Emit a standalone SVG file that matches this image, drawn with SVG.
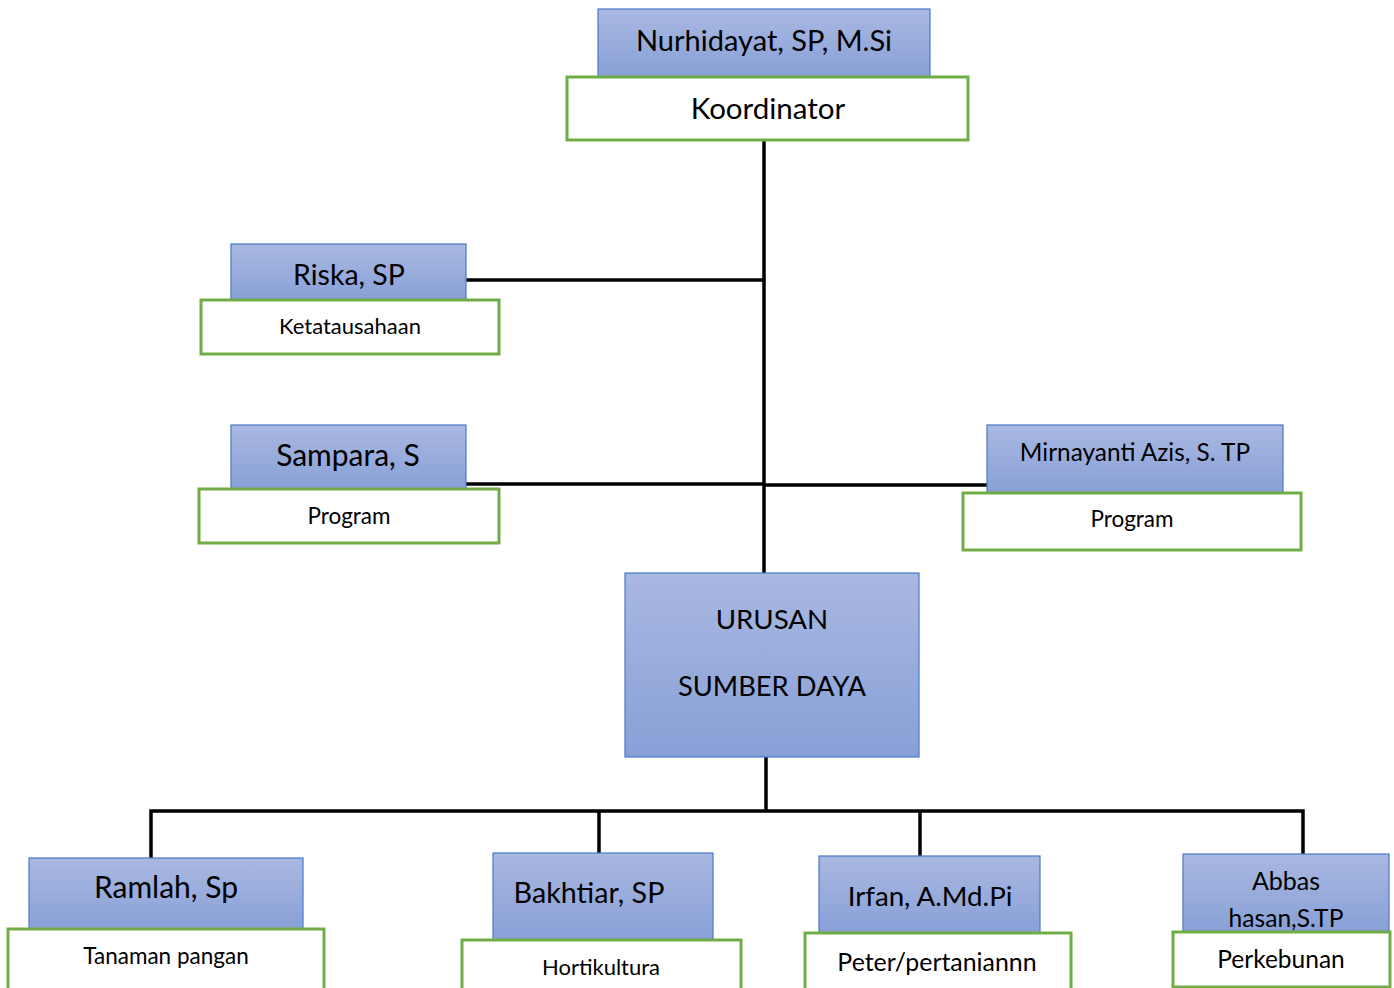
<svg xmlns="http://www.w3.org/2000/svg" width="1394" height="988" viewBox="0 0 1394 988">
<defs>
<linearGradient id="bg" x1="0" y1="0" x2="0" y2="1">
<stop offset="0" stop-color="#a9b8e1"/>
<stop offset="1" stop-color="#88a0d7"/>
</linearGradient>
</defs>
<style>
.name{fill:url(#bg);stroke:#4a78c8;stroke-width:1.2}
.role{fill:#fff;stroke:#70ad47;stroke-width:3}
text{font-family:Lato,"Open Sans",sans-serif;fill:#000;text-anchor:middle}
.con{stroke:#000;stroke-width:3.5;fill:none}
</style>
<rect width="1394" height="988" fill="#fff"/>
<g id="connectors">
<line class="con" x1="764" y1="140" x2="764" y2="573"/>
<line class="con" x1="466" y1="280" x2="764" y2="280"/>
<line class="con" x1="466" y1="484" x2="764" y2="484"/>
<line class="con" x1="764" y1="485" x2="987" y2="485"/>
<line class="con" x1="766" y1="748" x2="766" y2="811"/>
<polyline class="con" points="151,858 151,811 1303,811 1303,858"/>
<line class="con" x1="599" y1="811" x2="599" y2="858"/>
<line class="con" x1="920" y1="811" x2="920" y2="860"/>
</g>
<g id="koordinator">
<rect class="name" x="598" y="9" width="332" height="68"/>
<rect class="role" x="567" y="77" width="401" height="63"/>
<text x="764" y="51" font-size="29">Nurhidayat, SP, M.Si</text>
<text x="768" y="119" font-size="29.5">Koordinator</text>
</g>
<g id="riska">
<rect class="name" x="231" y="244" width="235" height="56"/>
<rect class="role" x="201" y="300" width="298" height="54"/>
<text x="349" y="285" font-size="28.5">Riska, SP</text>
<text x="350" y="334" font-size="22">Ketatausahaan</text>
</g>
<g id="sampara">
<rect class="name" x="231" y="425" width="235" height="64"/>
<rect class="role" x="199" y="489" width="300" height="54"/>
<text x="348" y="466" font-size="30">Sampara, S</text>
<text x="349" y="524" font-size="22.5">Program</text>
</g>
<g id="mirnayanti">
<rect class="name" x="987" y="425" width="296" height="68"/>
<rect class="role" x="963" y="493" width="338" height="57"/>
<text x="1135" y="461" font-size="24.4">Mirnayanti Azis, S. TP</text>
<text x="1132" y="527" font-size="22.5">Program</text>
</g>
<g id="urusan">
<rect class="name" x="625" y="573" width="294" height="184"/>
<text x="772" y="629" font-size="27.7">URUSAN</text>
<text x="772" y="696" font-size="27.3">SUMBER DAYA</text>
</g>
<g id="ramlah">
<rect class="name" x="29" y="858" width="274" height="71"/>
<rect class="role" x="8" y="929" width="316" height="65"/>
<text x="166" y="898" font-size="30">Ramlah, Sp</text>
<text x="166" y="964" font-size="22.5">Tanaman pangan</text>
</g>
<g id="bakhtiar">
<rect class="name" x="493" y="853" width="220" height="87"/>
<rect class="role" x="462" y="940" width="279" height="54"/>
<text x="589" y="903" font-size="28.7">Bakhtiar, SP</text>
<text x="601" y="975" font-size="22">Hortikultura</text>
</g>
<g id="irfan">
<rect class="name" x="819" y="856" width="221" height="77"/>
<rect class="role" x="805" y="933" width="266" height="61"/>
<text x="930" y="906" font-size="27.7">Irfan, A.Md.Pi</text>
<text x="937" y="971" font-size="24.9">Peter/pertaniannn</text>
</g>
<g id="abbas">
<rect class="name" x="1183" y="854" width="206" height="78"/>
<rect class="role" x="1173" y="932" width="217" height="55"/>
<text x="1286" y="890" font-size="25">Abbas</text>
<text x="1286" y="927" font-size="24.6">hasan,S.TP</text>
<text x="1281" y="968" font-size="24.5">Perkebunan</text>
</g>
</svg>
